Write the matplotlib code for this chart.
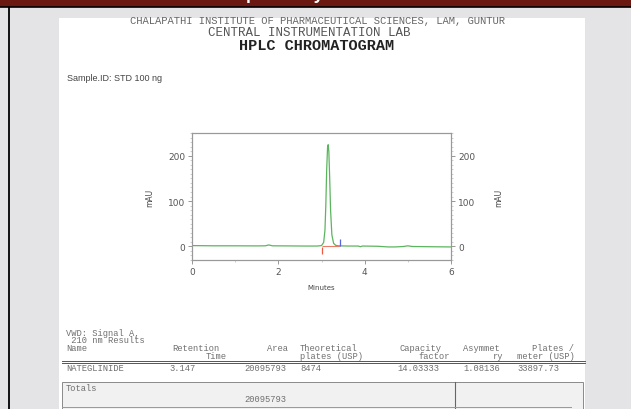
import matplotlib.pyplot as plt
from matplotlib.patches import Rectangle
from matplotlib.ticker import MultipleLocator

# chromatogram trace (minutes, mAU)
minutes = [0.0, 0.5, 1.0, 1.5, 1.7, 1.78, 1.86, 2.2, 2.6, 2.9, 3.0, 3.05, 3.08,
           3.10, 3.12, 3.14, 3.155, 3.17, 3.19, 3.21, 3.24, 3.28, 3.33, 3.4,
           3.6, 3.85, 3.9, 3.95, 4.3, 4.55, 4.7, 4.9, 5.0, 5.1, 5.5, 6.0]
mau = [1.0, 0.5, 0.5, 0.3, 0.5, 2.5, 0.5, 0.3, 0.0, 0.0, 1.0, 8.0, 35.0,
       90.0, 170.0, 218.0, 225.0, 210.0, 150.0, 80.0, 25.0, 6.0, 1.5, 0.5,
       0.0, 0.0, -1.5, 0.0, -0.5, -2.0, -2.0, -1.0, 0.5, -1.0, -1.5, -2.0]

# integration events
peak_start = [3.0]
peak_end = [3.44]

# results table
res_name = ['NATEGLINIDE']
ret_time = ['3.147']
area = ['20095793']
plates = ['8474']
capacity = ['14.03333']
asymmetry = ['1.08136']
plates_m = ['33897.73']
total_area = '20095793'

W, H = 631, 410
fig = plt.figure(figsize=(W / 100, H / 100), dpi=100)
fig.patch.set_facecolor('#e4e4e6')


def box(x, y, w, h, **kw):
    kw.setdefault('zorder', -5)
    fig.add_artist(Rectangle((x / W, 1 - (y + h) / H), w / W, h / H,
                             transform=fig.transFigure, **kw))


def hline(x0, x1, y, **kw):
    fig.add_artist(plt.Line2D([x0 / W, x1 / W], [1 - y / H, 1 - y / H],
                              transform=fig.transFigure, **kw))


def ftext(x, y, s, **kw):
    kw.setdefault('va', 'center')
    fig.text(x / W, 1 - y / H, s, **kw)


# page furniture
box(0, 0, W, 7.5, facecolor='#6b1712', edgecolor='none')
hline(0, W, 7.8, color='black', lw=1.2)
fig.add_artist(plt.Line2D([8.7 / W, 8.7 / W], [0, 1 - 8 / H],
                          transform=fig.transFigure, color='black', lw=1.3))
box(59, 19, 526, H - 19, facecolor='white', edgecolor='none', zorder=-6)
# banner title, only its descenders show under the top edge
fig.text(279 / W, 1 + 1.2 / H, 'Specificity', ha='center', va='baseline',
         color='white', fontsize=12.9, fontweight='bold', family='Liberation Sans')

mono = 'Liberation Mono'
ftext(317, 21.5, 'CHALAPATHI INSTITUTE OF PHARMACEUTICAL SCIENCES, LAM, GUNTUR',
      ha='center', family=mono, fontsize=7.6, color='#666666')
ftext(309, 33, 'CENTRAL INSTRUMENTATION LAB', ha='center', family=mono,
      fontsize=9, color='#555555')
ftext(317, 46, 'HPLC CHROMATOGRAM', ha='center', family=mono, fontsize=11,
      fontweight='bold', color='#222222')
ftext(67, 79, 'Sample.ID: STD 100 ng', family='Liberation Sans', fontsize=6.5,
      color='#444444')

# chromatogram
ax = fig.add_axes([192 / W, 1 - 261 / H, (451 - 192) / W, (261 - 134) / H])
ax.set_facecolor('none')
ax.plot(minutes, mau, color='#5cb55e', lw=0.9)
ax.hlines(-1, peak_start[0], peak_end[0], color='#ec7a66', lw=0.8)
ax.vlines(peak_start, -18, -2, color='#ec5a44', lw=0.9)
ax.vlines(peak_end, 0, 15, color='#5566dd', lw=0.9)
ax.set_xlim(0, 6)
ax.set_ylim(-31, 251)
ax.set_xticks([0, 2, 4, 6])
ax.xaxis.set_minor_locator(MultipleLocator(1))
ax.set_yticks([0, 100, 200])
ax.yaxis.set_minor_locator(MultipleLocator(10))
ax.set_xlabel('Minutes', fontsize=5, color='#444444', labelpad=6)
ax.set_ylabel('mAU', fontsize=5.5, color='#444444', labelpad=10)

ax2 = ax.twinx()
ax2.set_ylim(ax.get_ylim())
ax2.set_yticks([0, 100, 200])
ax2.yaxis.set_minor_locator(MultipleLocator(10))
ax2.set_ylabel('mAU', fontsize=5.5, color='#444444', labelpad=14)

for a in (ax, ax2):
    for sp in a.spines.values():
        sp.set_color('#999999')
        sp.set_linewidth(0.8)
    a.tick_params(which='major', length=3, width=0.6, color='#888888',
                  labelsize=6.5, labelcolor='#555555', pad=2)
    a.tick_params(which='minor', length=1.5, width=0.4, color='#aaaaaa')

# results table
tsize = 6.3
tcol = '#707070'
ftext(66, 333, 'VWD: Signal A,', family=mono, fontsize=tsize, color=tcol)
ftext(66, 341, ' 210 nm Results', family=mono, fontsize=tsize, color=tcol)

ftext(66, 349, 'Name', family=mono, fontsize=tsize, color=tcol)
ftext(172, 349, 'Retention', family=mono, fontsize=tsize, color=tcol)
ftext(227, 357, 'Time', family=mono, fontsize=tsize, color=tcol, ha='right')
ftext(288, 349, 'Area', family=mono, fontsize=tsize, color=tcol, ha='right')
ftext(300, 349, 'Theoretical', family=mono, fontsize=tsize, color=tcol)
ftext(300, 357, 'plates (USP)', family=mono, fontsize=tsize, color=tcol)
ftext(400, 349, 'Capacity', family=mono, fontsize=tsize, color=tcol)
ftext(450, 357, 'factor', family=mono, fontsize=tsize, color=tcol, ha='right')
ftext(463, 349, 'Asymmet', family=mono, fontsize=tsize, color=tcol)
ftext(503, 357, 'ry', family=mono, fontsize=tsize, color=tcol, ha='right')
ftext(574, 349, 'Plates /', family=mono, fontsize=tsize, color=tcol, ha='right')
ftext(517, 357, 'meter (USP)', family=mono, fontsize=tsize, color=tcol)

hline(62, 585, 361.5, color='#555555', lw=0.7)
hline(62, 585, 363.5, color='#555555', lw=0.7)

cols = [(66, res_name), (169, ret_time), (244, area), (300, plates),
        (397, capacity), (463, asymmetry), (517, plates_m)]
for i in range(len(res_name)):
    for x, vals in cols:
        ftext(x, 369 + 8 * i, vals[i], family=mono, fontsize=tsize, color=tcol)

box(62, 383, 521, 30, facecolor='#f1f1f1', edgecolor='#8a8a8a', lw=0.7)
fig.add_artist(plt.Line2D([455 / W, 455 / W], [0, 1 - 383 / H],
                          transform=fig.transFigure, color='#666666', lw=0.8))
hline(62, 571, 408, color='#999999', lw=0.7)
ftext(66, 389, 'Totals', family=mono, fontsize=tsize, color=tcol)
ftext(244, 400, total_area, family=mono, fontsize=tsize, color=tcol)

fig.savefig('out.png', dpi=100, facecolor=fig.get_facecolor())
